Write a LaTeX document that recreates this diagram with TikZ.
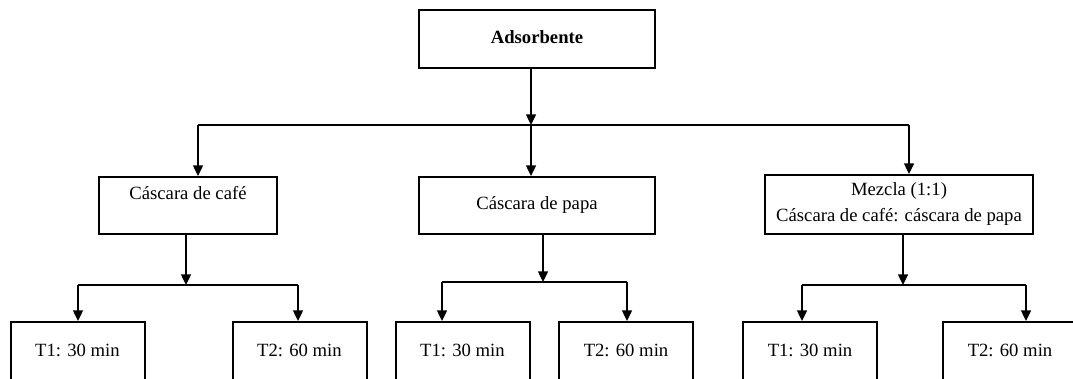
\documentclass[tikz,border=0pt]{standalone}
\usepackage{fontspec}
\setmainfont{Liberation Serif}
\usetikzlibrary{arrows.meta}
\begin{document}
\begin{tikzpicture}[x=0.75pt,y=-0.75pt,
  box/.style={draw, line width=1.5pt, inner sep=0pt, align=center,
    font=\fontsize{14}{19.5}\selectfont},
  one/.style={text height=10pt, text depth=3.5pt},
  toptext/.style={text height=10pt, text depth=19.3pt},
  tbox/.style={box, one, minimum width=100.5pt, minimum height=45pt},
  arr/.style={line width=1pt, -{Triangle[length=8pt,width=7.5pt]}},
  ln/.style={line width=1pt}]
\useasboundingbox (0,0) rectangle (1073,378);
\clip (0,0) rectangle (1073,378);
% level 0
\node[box, one, minimum width=177pt, minimum height=43.5pt, font=\fontsize{14}{19.5}\selectfont\bfseries] (ads) at (537,39) {Adsorbente};
% level 1
\node[box, toptext, minimum width=133.5pt, minimum height=42.75pt] (caf) at (188,205.5) {Cáscara de café};
\node[box, one, minimum width=177pt, minimum height=42.75pt] (pap) at (537,205.5) {Cáscara de papa};
\node[box, minimum width=201pt, minimum height=44.25pt] (mez) at (899,204.5) {Mezcla (1:1)\\Cáscara de café: cáscara de papa};
% level 2
\node[tbox] (c1) at (77.5,352) {T1: 30 min};
\node[tbox] (c2) at (299.5,352) {T2: 60 min};
\node[tbox] (p1) at (462.5,352) {T1: 30 min};
\node[tbox] (p2) at (626,352) {T2: 60 min};
\node[tbox] (m1) at (810,352) {T1: 30 min};
\node[tbox] (m2) at (1010,352) {T2: 60 min};
% top connectors
\coordinate (j0) at (531,125);
\coordinate (jl) at (198,125);
\coordinate (jr) at (909,125);
\draw[arr] (ads.south -| j0) -- (j0);
\draw[ln] (jl) -- (jr);
\draw[arr] (jl) -- (jl |- caf.north);
\draw[arr] (j0) -- (j0 |- pap.north);
\draw[arr] (jr) -- (jr |- mez.north);
% left group
\coordinate (cj) at (186,285);
\coordinate (cl) at (78,285);
\coordinate (cr) at (298,285);
\draw[arr] (caf.south -| cj) -- (cj);
\draw[ln] (cl) -- (cr);
\draw[arr] (cl) -- (cl |- c1.north);
\draw[arr] (cr) -- (cr |- c2.north);
% middle group
\coordinate (pj) at (543,282);
\coordinate (pl) at (442,282);
\coordinate (pr) at (627,282);
\draw[arr] (pap.south -| pj) -- (pj);
\draw[ln] (pl) -- (pr);
\draw[arr] (pl) -- (pl |- p1.north);
\draw[arr] (pr) -- (pr |- p2.north);
% right group
\coordinate (mj) at (903,285);
\coordinate (ml) at (802,285);
\coordinate (mr) at (1026,285);
\draw[arr] (mez.south -| mj) -- (mj);
\draw[ln] (ml) -- (mr);
\draw[arr] (ml) -- (ml |- m1.north);
\draw[arr] (mr) -- (mr |- m2.north);
\end{tikzpicture}
\end{document}
